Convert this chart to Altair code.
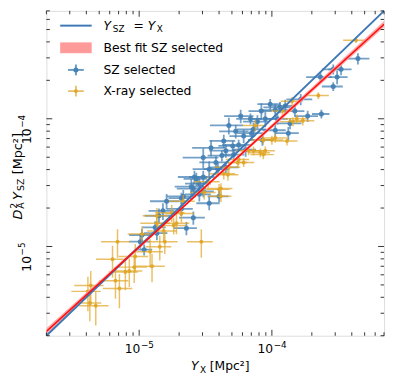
import altair as alt
import pandas as pd

# ---------------- data (values in units of 1e-5 Mpc^2) ----------------
sz_yx = [44.5, 33.2, 29.0, 31.0, 23.2, 29.0, 16.5, 12.6, 11.5, 8.33, 6.90, 10.6, 14.9, 18.6, 23.6,
         13.3, 8.48, 7.27, 8.92, 13.7, 10.6, 7.02, 5.82, 4.74, 6.13, 5.62, 6.34, 5.07, 4.50, 5.16,
         3.04, 3.79, 3.92, 4.50, 3.37, 2.61, 2.84, 2.56, 3.04, 2.47, 2.70, 2.84, 3.04, 4.00, 3.37,
         2.15, 1.61, 2.08, 2.08, 2.56, 2.27, 1.51, 1.32, 1.41, 1.05, 1.02, 1.09, 1.36, 9.71, 7.78,
         5.34, 4.34, 3.48, 4.20, 11.0]
sz_ysz = [29.6, 24.4, 24.4, 21.2, 21.2, 17.9, 14.2, 12.6, 12.3, 11.5, 10.0, 11.7, 11.5, 10.5, 10.9,
          7.71, 6.82, 8.27, 10.0, 9.19, 8.13, 7.71, 10.5, 8.87, 7.32, 6.24, 5.72, 6.13, 5.62, 5.24,
          4.97, 4.55, 4.03, 4.17, 4.03, 3.50, 3.10, 2.84, 3.50, 2.94, 3.38, 2.56, 2.70, 2.47, 2.18,
          2.47, 2.26, 1.97, 2.39, 1.68, 1.39, 1.90, 1.41, 1.74, 1.23, 1.09, 0.944, 1.27, 13.0, 9.5,
          7.98, 6.70, 5.92, 5.15, 10.0]
sz_xerr = [0.22, 0.20, 0.18, 0.20, 0.22, 0.18, 0.22, 0.20, 0.25, 0.20, 0.22, 0.25, 0.18, 0.20, 0.15,
           0.20, 0.22, 0.25, 0.20, 0.22, 0.20, 0.22, 0.25, 0.28, 0.22, 0.25, 0.20, 0.22, 0.25, 0.20,
           0.30, 0.25, 0.22, 0.25, 0.25, 0.25, 0.22, 0.25, 0.22, 0.25, 0.20, 0.22, 0.20, 0.18, 0.20,
           0.25, 0.25, 0.22, 0.20, 0.22, 0.20, 0.22, 0.20, 0.22, 0.20, 0.18, 0.15, 0.20, 0.20, 0.22,
           0.25, 0.22, 0.28, 0.22, 0.20]
sz_yerr = [0.10, 0.10, 0.09, 0.12, 0.10, 0.08, 0.10, 0.12, 0.10, 0.15, 0.10, 0.12, 0.10, 0.10, 0.08,
           0.12, 0.10, 0.12, 0.14, 0.10, 0.12, 0.10, 0.12, 0.15, 0.12, 0.10, 0.12, 0.10, 0.12, 0.10,
           0.18, 0.12, 0.12, 0.10, 0.15, 0.12, 0.12, 0.12, 0.12, 0.15, 0.12, 0.12, 0.10, 0.10, 0.12,
           0.12, 0.14, 0.12, 0.10, 0.12, 0.12, 0.15, 0.12, 0.14, 0.12, 0.12, 0.10, 0.12, 0.10, 0.12,
           0.12, 0.12, 0.14, 0.10, 0.10]

xr_yx = [43.0, 22.4, 12.0, 14.2, 15.4, 17.1, 14.4, 10.6, 10.0, 13.0, 7.52, 8.62, 8.92, 8.19, 7.27,
         6.67, 8.62, 4.74, 4.66, 5.62, 6.13, 5.53, 4.34, 3.31, 4.13, 3.09, 4.00, 4.13, 1.76, 2.08,
         2.15, 1.53, 1.82, 1.36, 1.91, 2.94, 0.687, 0.630, 0.934, 1.21, 1.43, 1.25, 0.918, 0.432, 0.411,
         0.471, 0.425, 0.710, 0.663, 0.787, 0.843, 1.56, 1.05, 1.36]
xr_ysz = [41.2, 15.2, 11.5, 13.7, 10.0, 9.65, 9.5, 7.06, 6.82, 6.70, 8.87, 6.82, 5.62, 5.42, 5.62,
          5.62, 5.24, 4.17, 3.64, 4.80, 4.55, 4.55, 3.71, 3.21, 2.84, 2.65, 2.80, 2.47, 1.84, 1.81,
          2.26, 1.32, 1.46, 1.52, 1.52, 1.09, 1.09, 0.793, 0.835, 0.911, 0.995, 0.70, 0.689, 0.494, 0.445,
          0.343, 0.361, 0.469, 0.540, 0.631, 0.643, 1.09, 1.25, 1.74]
xr_xerr = [0.20, 0.20, 0.18, 0.18, 0.20, 0.22, 0.20, 0.20, 0.22, 0.20, 0.20, 0.20, 0.18, 0.18, 0.20,
           0.20, 0.20, 0.22, 0.20, 0.20, 0.20, 0.18, 0.22, 0.22, 0.22, 0.22, 0.20, 0.20, 0.25, 0.25,
           0.22, 0.25, 0.25, 0.25, 0.25, 0.22, 0.25, 0.25, 0.25, 0.25, 0.22, 0.25, 0.25, 0.25, 0.25,
           0.25, 0.22, 0.25, 0.25, 0.25, 0.25, 0.25, 0.22, 0.22]
xr_yerr = [0.05, 0.06, 0.08, 0.08, 0.08, 0.08, 0.08, 0.08, 0.08, 0.08, 0.10, 0.08, 0.08, 0.08, 0.08,
           0.08, 0.08, 0.10, 0.10, 0.10, 0.08, 0.08, 0.10, 0.10, 0.10, 0.12, 0.10, 0.10, 0.15, 0.15,
           0.12, 0.18, 0.15, 0.15, 0.18, 0.25, 0.25, 0.28, 0.25, 0.25, 0.22, 0.25, 0.25, 0.30, 0.30,
           0.30, 0.28, 0.30, 0.28, 0.28, 0.25, 0.20, 0.15, 0.15]

# Y_SZ = Y_X reference line and best-fit relation (Mpc^2)
diag_x = [2e-6, 7e-4]
fit_x = [2e-6, 2e-5, 7e-4]
fit_y = [2.16e-6, 1.91e-5, 5.50e-4]
fit_lo = [2.04e-6, 1.87e-5, 5.20e-4]
fit_hi = [2.29e-6, 1.95e-5, 5.82e-4]

major_ticks = [1e-5, 1e-4]
tick_mant = ["10", "10"]
tick_exp = ["−5", "−4"]
minor_ticks = [2e-6, 3e-6, 4e-6, 5e-6, 6e-6, 7e-6, 8e-6, 9e-6,
               2e-5, 3e-5, 4e-5, 5e-5, 6e-5, 7e-5, 8e-5, 9e-5,
               2e-4, 3e-4, 4e-4, 5e-4, 6e-4, 7e-4]

# ---------------- styling ----------------
W, H = 343, 330
FONT = "DejaVu Sans"
FS = 12.5
BLUE = "#4682b4"
ORANGE = "#e0a526"
LINE_BLUE = "#3d78b4"
RED = "#ff1010"
PINK = "#ff9a9a"

DOM = [2e-6, 7e-4]
xs = alt.Scale(type="log", domain=DOM, nice=False)
ys = alt.Scale(type="log", domain=DOM, nice=False)


def pts_frame(x, y, fx, fy):
    df = pd.DataFrame({"x": [v * 1e-5 for v in x], "y": [v * 1e-5 for v in y],
                       "fx": fx, "fy": fy})
    df["xlo"] = df.x * (1 - df.fx)
    df["xhi"] = df.x * (1 + df.fx)
    df["ylo"] = df.y * (1 - df.fy)
    df["yhi"] = df.y * (1 + df.fy)
    return df


sz = pts_frame(sz_yx, sz_ysz, sz_xerr, sz_yerr)
xr = pts_frame(xr_yx, xr_ysz, xr_xerr, xr_yerr)


def errbars(df, color, width, opacity):
    h = alt.Chart(df).mark_rule(color=color, strokeWidth=width, opacity=opacity, clip=True).encode(
        x=alt.X("xlo:Q", scale=xs, axis=None), x2="xhi:Q", y=alt.Y("y:Q", scale=ys, axis=None))
    v = alt.Chart(df).mark_rule(color=color, strokeWidth=width, opacity=opacity, clip=True).encode(
        x=alt.X("x:Q", scale=xs, axis=None), y=alt.Y("ylo:Q", scale=ys, axis=None), y2="yhi:Q")
    return [h, v]


sz_pts = alt.Chart(sz).mark_circle(color=BLUE, size=26, opacity=0.95, clip=True).encode(
    x=alt.X("x:Q", scale=xs, axis=None), y=alt.Y("y:Q", scale=ys, axis=None))
xr_pts = alt.Chart(xr).mark_circle(color=ORANGE, size=16, opacity=0.9, clip=True).encode(
    x=alt.X("x:Q", scale=xs, axis=None), y=alt.Y("y:Q", scale=ys, axis=None))

diag = alt.Chart(pd.DataFrame({"x": diag_x, "y": diag_x})).mark_line(
    color=LINE_BLUE, strokeWidth=2, clip=True).encode(
    x=alt.X("x:Q", scale=xs, axis=None), y=alt.Y("y:Q", scale=ys, axis=None))
fitdf = pd.DataFrame({"x": fit_x, "y": fit_y, "lo": fit_lo, "hi": fit_hi})
band = alt.Chart(fitdf).mark_area(color=PINK, opacity=0.85, clip=True).encode(
    x=alt.X("x:Q", scale=xs, axis=None), y=alt.Y("lo:Q", scale=ys, axis=None), y2="hi:Q")
fit = alt.Chart(fitdf).mark_line(color=RED, strokeWidth=1.6, clip=True).encode(
    x=alt.X("x:Q", scale=xs, axis=None), y=alt.Y("y:Q", scale=ys, axis=None))


def tick_layers(values, length):
    df = pd.DataFrame({"v": values})
    base = alt.Chart(df).mark_rule(color="black", strokeWidth=0.8)
    return [
        base.encode(x=alt.X("v:Q", scale=xs, axis=None), y=alt.value(H), y2=alt.value(H - length)),
        base.encode(x=alt.X("v:Q", scale=xs, axis=None), y=alt.value(0), y2=alt.value(length)),
        base.encode(y=alt.Y("v:Q", scale=ys, axis=None), x=alt.value(0), x2=alt.value(length)),
        base.encode(y=alt.Y("v:Q", scale=ys, axis=None), x=alt.value(W), x2=alt.value(W - length)),
    ]


# tick labels 10^-5, 10^-4 placed through the scales
tdf = pd.DataFrame({"v": major_ticks, "mant": tick_mant, "exp": tick_exp})
tl = dict(font=FONT, align="left", baseline="middle", color="black")
YL = -20
tick_labels = [
    alt.Chart(tdf).mark_text(fontSize=FS, dx=-14.6, **tl).encode(
        x=alt.X("v:Q", scale=xs, axis=None), y=alt.value(H + 14), text="mant:N"),
    alt.Chart(tdf).mark_text(fontSize=9, dx=1.8, dy=-5, **tl).encode(
        x=alt.X("v:Q", scale=xs, axis=None), y=alt.value(H + 14), text="exp:N"),
    alt.Chart(tdf).mark_text(fontSize=FS, dx=-25.6, angle=270, **tl).encode(
        y=alt.Y("v:Q", scale=ys, axis=None), x=alt.value(YL), text="mant:N"),
    alt.Chart(tdf).mark_text(fontSize=9, dx=-9.2, dy=-5, angle=270, **tl).encode(
        y=alt.Y("v:Q", scale=ys, axis=None), x=alt.value(YL), text="exp:N"),
]

one = pd.DataFrame({"k": [0]})


def txt(s, x, y, size=FS, italic=False, dx=0, dy=0, angle=None):
    kw = dict(text=s, font=FONT, fontSize=size, align="left", baseline="middle",
              color="black", dx=dx, dy=dy)
    if italic:
        kw["fontStyle"] = "italic"
    if angle:
        kw["angle"] = angle
    return alt.Chart(one).mark_text(**kw).encode(x=alt.value(x), y=alt.value(y))


def seg(x1, x2, y1, y2, color, width, opacity=1.0):
    return alt.Chart(one).mark_rule(color=color, strokeWidth=width, opacity=opacity).encode(
        x=alt.value(x1), x2=alt.value(x2), y=alt.value(y1), y2=alt.value(y2))


R1, R2, R3, R4 = 15, 37.5, 60, 81.5
legend = [
    seg(14, 46, R1, R1, LINE_BLUE, 2),
    txt("Y", 58, R1, italic=True), txt("SZ", 67.5, R1, size=9, dy=3.5),
    txt("=", 88.5, R1), txt("Y", 103, R1, italic=True), txt("X", 112, R1, size=9, dy=3.5),
    alt.Chart(one).mark_rect(color=PINK).encode(
        x=alt.value(14), x2=alt.value(46), y=alt.value(R2 - 5.5), y2=alt.value(R2 + 5.5)),
    txt("Best fit SZ selected", 58, R2),
    seg(22, 38, R3, R3, BLUE, 2, 0.8), seg(30, 30, R3 - 5.5, R3 + 5.5, BLUE, 2, 0.8),
    alt.Chart(one).mark_circle(color=BLUE, size=26, opacity=1).encode(x=alt.value(30), y=alt.value(R3)),
    txt("SZ selected", 58, R3),
    seg(22, 38, R4, R4, ORANGE, 1.6, 0.8), seg(30, 30, R4 - 5.5, R4 + 5.5, ORANGE, 1.6, 0.8),
    alt.Chart(one).mark_circle(color=ORANGE, size=14, opacity=1).encode(x=alt.value(30), y=alt.value(R4)),
    txt("X-ray selected", 58, R4),
]

# axis titles built from pieces (sub/superscripts)
XT = H + 31
xtitle = [txt("Y", 147, XT, italic=True), txt("X", 156, XT, size=9, dy=3.5),
          txt("[Mpc²]", 166, XT)]
YX, YY, TF = -29, 212, 13
ytitle = [txt("D", YX, YY, size=TF, italic=True, angle=270),
          txt("2", YX, YY, size=9.5, dx=11, dy=-4.2, angle=270),
          txt("A", YX, YY, size=9.5, dx=11, dy=3.5, angle=270),
          txt("Y", YX, YY, size=TF, italic=True, dx=20, angle=270),
          txt("SZ", YX, YY, size=9.5, dx=29, dy=3.5, angle=270),
          txt("[Mpc²]", YX, YY, size=TF, dx=46, angle=270)]

layers = (errbars(sz, BLUE, 1.8, 0.75) + [sz_pts] + errbars(xr, ORANGE, 1.5, 0.7) + [xr_pts]
          + [band, diag, fit] + tick_layers(major_ticks, 6) + tick_layers(minor_ticks, 3.5)
          + tick_labels + legend + xtitle + ytitle)

chart = alt.layer(*layers).properties(
    width=W, height=H,
    autosize=alt.AutoSizeParams(type="none"),
    padding={"left": 39, "top": 0, "right": 3, "bottom": 38},
).configure_view(stroke="black", strokeWidth=1.2).configure(font=FONT)

chart.save("out.html", embed_options={"renderer": "svg", "actions": False})
